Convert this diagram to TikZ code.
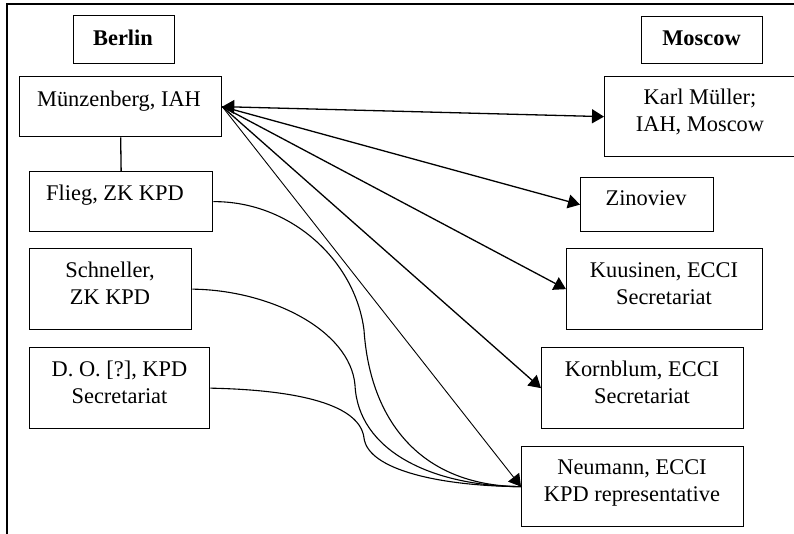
\documentclass[tikz,border=0pt]{standalone}
\usepackage{fontspec}
\setmainfont{Liberation Serif}
\usetikzlibrary{arrows.meta}
\begin{document}
\begin{tikzpicture}[x=0.5pt,y=-0.5pt,
  box/.style={draw,line width=0.65pt,inner sep=0pt,anchor=north west},
  lbl/.style={anchor=base,inner sep=0pt,align=center,font=\fontsize{11.2}{13.5}\selectfont},
  ttl/.style={anchor=base,inner sep=0pt,font=\fontsize{11.2}{13.5}\selectfont\bfseries},
  tip/.tip={Triangle[length=6pt,width=7pt]},
  arr/.style={-tip,line width=0.65pt},
  curve/.style={line width=0.55pt}]
\clip (0,0) rectangle (794,534);
% frame
\draw[line width=0.65pt] (7,540) -- (7,4) -- (800,4);
% boxes
\node[box,minimum width=50.5pt,minimum height=24pt] (be) at (73,15) {};
\node[box,minimum width=101pt,minimum height=30pt] (mz) at (19,76) {};
\node[box,minimum width=91.5pt,minimum height=30pt] (fl) at (29,171) {};
\node[box,minimum width=81pt,minimum height=40.5pt] (sc) at (29,248) {};
\node[box,minimum width=90pt,minimum height=40.5pt] (do) at (29,347) {};
\node[box,minimum width=60.5pt,minimum height=23.5pt] (mo) at (641,16) {};
\node[box,minimum width=108pt,minimum height=40pt] (km) at (604,76) {};
\node[box,minimum width=66.5pt,minimum height=27pt] (zi) at (580,177) {};
\node[box,minimum width=98pt,minimum height=40.5pt] (ku) at (566,248) {};
\node[box,minimum width=101pt,minimum height=40.5pt] (ko) at (541,347) {};
\node[box,minimum width=111pt,minimum height=40pt] (nm) at (521,446) {};
% labels (two-line labels are placed by the baseline of their last line)
\node[ttl] (bet) at (123,46) {Berlin};
\node[ttl] (mot) at (701.5,46) {Moscow};
\node[lbl] (mzt) at (119,107) {Münzenberg, IAH};
\node[lbl] (flt) at (115,201) {Flieg, ZK KPD};
\node[lbl] (sct) at (110,305) {Schneller,\\ZK KPD};
\node[lbl] (dot) at (119.5,404) {D. O. [?], KPD\\Secretariat};
\node[lbl] (kmt) at (700,132) {Karl Müller;\\IAH, Moscow};
\node[lbl] (zit) at (646,206) {Zinoviev};
\node[lbl] (kut) at (664,305) {Kuusinen, ECCI\\Secretariat};
\node[lbl] (kot) at (642,404) {Kornblum, ECCI\\Secretariat};
\node[lbl] (nmt) at (632,502) {Neumann, ECCI\\KPD representative};
% connectors
\draw[line width=0.65pt] (mz.south) -- (fl.north);
\draw[arr,tip-tip] (mz.east) -- (km.west);
\draw[arr] (mz.east) -- (zi.west);
\draw[arr] (mz.east) -- (ku.west);
\draw[arr] (mz.east) -- (ko.west);
\draw[arr,line width=0.45pt] (mz.east) -- (nm.west);
\draw[curve] (fl.east) .. controls (290,201) and (355,260) .. (364,330)
  .. controls (370,420) and (420,486) .. (nm.west);
\draw[curve] (sc.east) .. controls (270,290) and (350,330) .. (355,385)
  .. controls (358,450) and (430,486) .. (nm.west);
\draw[curve] (do.east) .. controls (300,390) and (360,405) .. (364,438)
  .. controls (368,470) and (440,486) .. (nm.west);
\end{tikzpicture}
\end{document}
